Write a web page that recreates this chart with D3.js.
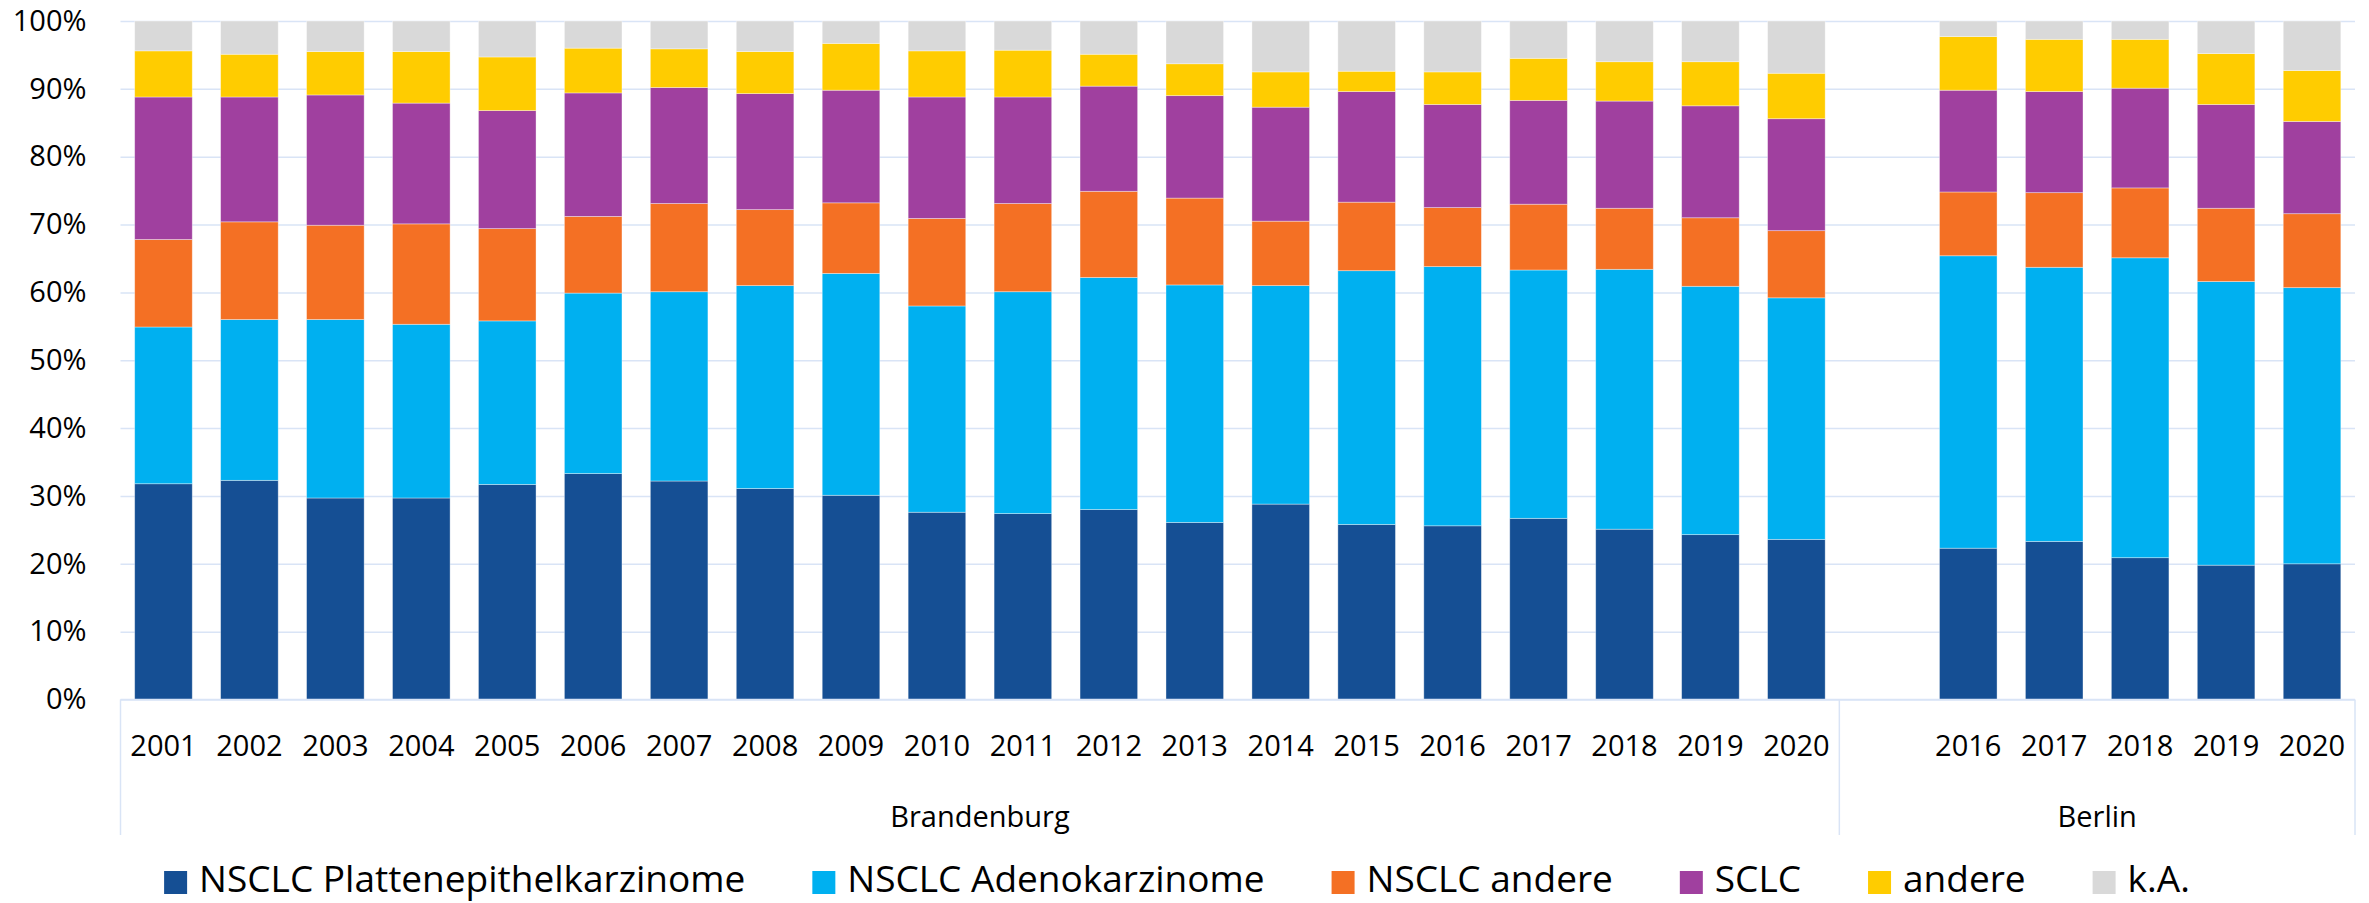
<!DOCTYPE html>
<html>
<head>
<meta charset="utf-8">
<script src="https://cdn.jsdelivr.net/npm/d3@7"></script>
<style>
  html, body { margin: 0; padding: 0; background: #fff; }
  svg { display: block; font-family: "Open Sans", "Noto Sans", sans-serif; }
</style>
</head>
<body>
<svg id="chart" width="2369" height="903"></svg>
<script>
// ---- data ----
const categories = ["2001","2002","2003","2004","2005","2006","2007","2008","2009","2010",
  "2011","2012","2013","2014","2015","2016","2017","2018","2019","2020",
  "", "2016","2017","2018","2019","2020"];
const groupNames = ["Brandenburg", "Berlin"];
const groupSizes = [20, 6];
const seriesNames = ["NSCLC Plattenepithelkarzinome", "NSCLC Adenokarzinome", "NSCLC andere", "SCLC", "andere", "k.A."];
const seriesColors = ["#154f94", "#00b0f0", "#f47024", "#a0409f", "#ffcc00", "#d9d9d9"];

const plattenepithel = [31.8,32.3,29.7,29.7,31.7,33.3,32.2,31.1,30.1,27.6,27.4,28.0,26.1,28.8,25.8,25.6,26.7,25.1,24.3,23.6, null, 22.3,23.3,20.9,19.8,20.0];
const adeno          = [23.1,23.7,26.3,25.6,24.1,26.6,27.9,29.9,32.7,30.4,32.7,34.2,35.0,32.2,37.4,38.2,36.6,38.3,36.6,35.6, null, 43.1,40.4,44.2,41.8,40.7];
const nsclcAndere    = [12.9,14.4,13.9,14.8,13.6,11.3,13.0,11.2,10.4,12.9,13.0,12.7,12.8,9.5,10.1,8.7,9.7,9.0,10.1,9.9, null, 9.4,11.0,10.3,10.8,10.9];
const sclc           = [21.0,18.4,19.2,17.8,17.4,18.2,17.1,17.1,16.6,17.9,15.7,15.5,15.1,16.8,16.3,15.2,15.3,15.8,16.5,16.5, null, 15.0,14.9,14.7,15.3,13.6];
const andere         = [6.8,6.3,6.4,7.6,7.9,6.6,5.7,6.2,6.9,6.8,6.9,4.7,4.7,5.2,3.0,4.8,6.2,5.8,6.5,6.7, null, 7.9,7.7,7.2,7.5,7.5];
const kA             = [4.4,4.9,4.5,4.5,5.3,4.0,4.1,4.5,3.3,4.4,4.3,4.9,6.3,7.5,7.4,7.5,5.5,6.0,6.0,7.7, null, 2.3,2.7,2.7,4.8,7.3];
const yTicks = [0,10,20,30,40,50,60,70,80,90,100];

const seriesValues = [plattenepithel, adeno, nsclcAndere, sclc, andere, kA];

// ---- layout ----
const svg = d3.select("#chart");
const plotLeft = 120.5, plotRight = 2355, plotTop = 21, plotBottom = 699.5;
const axisExt = 835;
const textColor = "#000";
const gridColor = "#d9e4f6";

const idx = categories.map((c, i) => i);
const x = d3.scaleBand().domain(idx).range([plotLeft, plotRight]).paddingInner(0.33).paddingOuter(0.165);
const y = d3.scaleLinear().domain([0, 100]).range([plotBottom, plotTop]);

// gridlines
const yAxis = d3.axisLeft(y).tickValues(yTicks).tickFormat(d => d + "%").tickSize(-(plotRight - plotLeft)).tickPadding(34);
const gy = svg.append("g").attr("transform", `translate(${plotLeft},0)`).call(yAxis);
gy.select(".domain").remove();
gy.selectAll(".tick line").attr("stroke", gridColor).attr("stroke-width", 1.5);
gy.selectAll(".tick text").attr("fill", textColor).attr("font-size", 29).attr("font-family", '"Open Sans", sans-serif');

// stacked data
const rows = idx.map(i => {
  const r = { i };
  seriesValues.forEach((arr, s) => r["s" + s] = arr[i]);
  return r;
}).filter(r => r.s0 !== null);
const stack = d3.stack().keys(seriesNames.map((n, s) => "s" + s));
const stacked = stack(rows);

svg.append("g").selectAll("g").data(stacked).join("g")
  .attr("fill", (d, s) => seriesColors[s])
  .selectAll("rect").data(d => d).join("rect")
  .attr("x", d => x(d.data.i))
  .attr("width", x.bandwidth())
  .attr("y", d => y(d[1]))
  .attr("height", d => y(d[0]) - y(d[1]))
  .attr("stroke", "#ffffff").attr("stroke-opacity", 0.45).attr("stroke-width", 0.8);

// x axis baseline
svg.append("line").attr("x1", plotLeft).attr("x2", plotRight).attr("y1", plotBottom).attr("y2", plotBottom)
  .attr("stroke", gridColor).attr("stroke-width", 1.5);

// category labels
const xAxis = d3.axisBottom(x).tickFormat(i => categories[i]).tickSize(0).tickPadding(36);
const gx = svg.append("g").attr("transform", `translate(0,${plotBottom})`).call(xAxis);
gx.select(".domain").remove();
gx.selectAll(".tick text").attr("fill", textColor).attr("font-size", 29).attr("font-family", '"Open Sans", sans-serif');

// group separators and labels
let start = 0;
const bounds = [plotLeft];
groupSizes.forEach((n, g) => {
  const x0 = plotLeft + start * x.step();
  const x1 = plotLeft + (start + n) * x.step();
  bounds.push(x1);
  svg.append("text").attr("x", (x0 + x1) / 2).attr("y", 827)
    .attr("text-anchor", "middle").attr("fill", textColor).attr("font-size", 29)
    .text(groupNames[g]);
  start += n;
});
bounds.forEach(bx => {
  svg.append("line").attr("x1", bx).attr("x2", bx).attr("y1", plotBottom).attr("y2", axisExt)
    .attr("stroke", gridColor).attr("stroke-width", 1.5);
});

// legend
const legend = svg.append("g");
const items = legend.selectAll("g").data(seriesNames).join("g");
items.append("rect").attr("width", 23).attr("height", 23).attr("y", 871).attr("fill", (d, s) => seriesColors[s]);
items.append("text").attr("x", 35).attr("y", 892).attr("font-size", 37).attr("fill", textColor).text(d => d);
let cx = 0;
const gap = 67;
items.each(function () {
  const w = d3.select(this).select("text").node().getComputedTextLength();
  d3.select(this).attr("transform", `translate(${cx},0)`);
  cx += 35 + w + gap;
});
const total = cx - gap;
legend.attr("transform", `translate(${1177 - total / 2},0)`);
</script>
</body>
</html>
